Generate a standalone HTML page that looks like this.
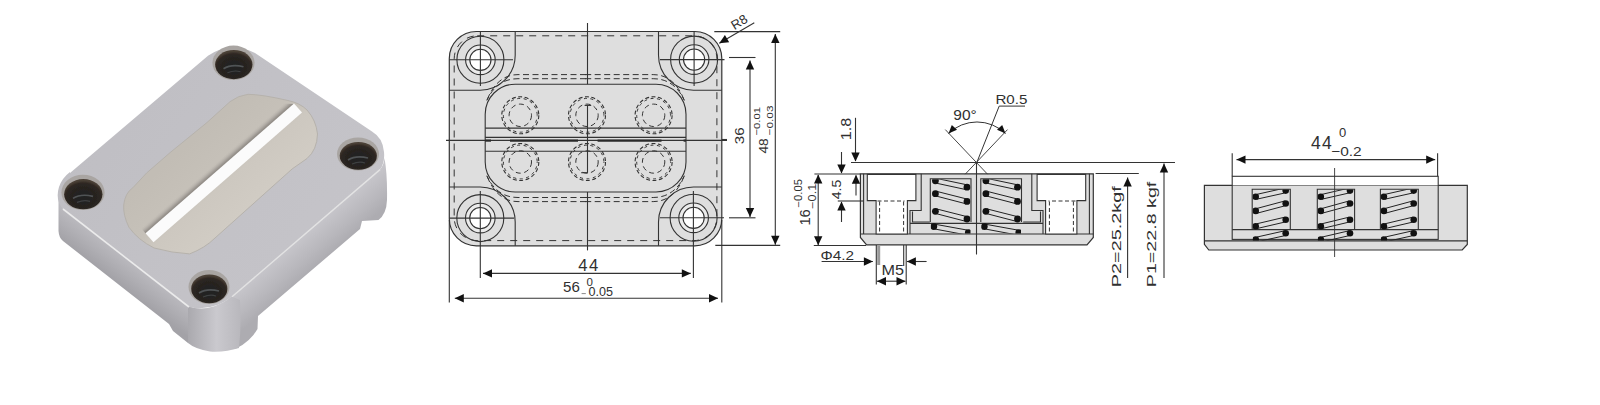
<!DOCTYPE html>
<html><head><meta charset="utf-8"><style>
html,body{margin:0;padding:0;background:#ffffff;overflow:hidden;}
svg{display:block;}
text{font-family:"Liberation Sans", sans-serif;fill:#303030;}
</style></head><body>
<svg width="1600" height="405" viewBox="0 0 1600 405">
<rect width="1600" height="405" fill="#ffffff"/>
<defs>
<linearGradient id="gTop" gradientUnits="userSpaceOnUse" x1="60" y1="60" x2="390" y2="300">
 <stop offset="0" stop-color="#bebdc2"/><stop offset="0.45" stop-color="#c2c1c6"/><stop offset="1" stop-color="#c6c5ca"/>
</linearGradient>
<linearGradient id="gLeft" gradientUnits="userSpaceOnUse" x1="120" y1="253" x2="104.6" y2="273">
 <stop offset="0" stop-color="#bab9be"/><stop offset="0.5" stop-color="#afaeb3"/><stop offset="1" stop-color="#a3a2a7"/>
</linearGradient>
<linearGradient id="gRight" gradientUnits="userSpaceOnUse" x1="300" y1="238.3" x2="320.9" y2="262.6">
 <stop offset="0" stop-color="#c6c5ca"/><stop offset="0.6" stop-color="#b8b7bc"/><stop offset="1" stop-color="#adacb1"/>
</linearGradient>
<linearGradient id="gFront" gradientUnits="userSpaceOnUse" x1="188" y1="0" x2="240" y2="0">
 <stop offset="0" stop-color="#aaa9ae"/><stop offset="0.55" stop-color="#cac9ce"/><stop offset="1" stop-color="#b9b8bd"/>
</linearGradient>
<linearGradient id="gSlot" gradientUnits="userSpaceOnUse" x1="194.1" y1="139.0" x2="253.4" y2="206.7">
 <stop offset="0" stop-color="#c2bdb5"/><stop offset="0.45" stop-color="#c6c1b9"/><stop offset="0.6" stop-color="#cdc8c0"/><stop offset="1" stop-color="#d1ccc4"/>
</linearGradient>
<linearGradient id="gBand" gradientUnits="userSpaceOnUse" x1="215.19" y1="163.06" x2="220.13" y2="168.71">
 <stop offset="0" stop-color="#c4bfb7" stop-opacity="0"/><stop offset="0.55" stop-color="#aca7a1"/><stop offset="0.8" stop-color="#96918b"/><stop offset="1" stop-color="#8c8781"/>
</linearGradient>
<radialGradient id="gHole" cx="0.5" cy="0.6" r="0.55">
 <stop offset="0" stop-color="#202224"/><stop offset="0.55" stop-color="#26231f"/><stop offset="0.85" stop-color="#2e2721"/><stop offset="1" stop-color="#4a3f36"/>
</radialGradient>
<filter id="pblur" x="0" y="0" width="1" height="1"><feGaussianBlur stdDeviation="0.6"/></filter>
</defs>
<g filter="url(#pblur)">
<path d="M58.5,192 L58.5,231 Q59,238 63,241 L169,324 L173,331 L188,343 L192,312 L189,307 L63,209 Z" fill="url(#gLeft)"/>
<path d="M225,302 L380,169.6 Q384,165 384.5,158 Q387.5,175 387,200 Q386.5,214 378.5,220 L362,221 L360,229 L258,316 L257.5,329 Q250,342 236,348.5 L225,348 Z" fill="url(#gRight)"/>
<path d="M188,306 Q208,314 232,296.8 L240,300 Q241.5,325 239,348 Q225,352.5 210,351.5 Q195,349 188,343 Z" fill="url(#gFront)"/>
<path d="M70,173 L208,55.8 Q230,40 255,53 L372,131.5 Q383,138 384,152 Q385,163 380,169.6 L232,296.8 Q212,312 189,307 L63,209 Q55,200 59,187 Q62,178 70,172 Z" fill="url(#gTop)"/>
<path d="M63,209 L189,307" stroke="#eeeeee" stroke-width="1.6" fill="none" opacity="0.9"/>
<path d="M380,169.6 L232,296.8" stroke="#e6e6e6" stroke-width="1.4" fill="none" opacity="0.9"/>
<path d="M146.6,173 L170,152.7 L207,122.5 L230,101.7 Q238,95.5 248,94.3 Q262,94.5 288,100.5 Q300,103 307,110 Q316,120 317.5,134 Q317,150 307,158.5 L292.2,168.9 L215,238 Q205,248 189.6,253.9 Q172,253 154.1,248 Q138,240 128.9,227.2 Q123,215 123.7,205 Q125,193 132.8,187.8 Z" fill="url(#gSlot)" stroke="#b6b2ac" stroke-width="1"/>
<path d="M146.2,234.0 L294.7,104.1 L283.4,103.4 L140.9,228.0 Z" fill="url(#gBand)"/>
<path d="M145.5,233.3 L294.0,103.4 L302.0,112.4 L153.5,242.3 Z" fill="#fbfbfb"/>
<ellipse cx="233.5" cy="62.8" rx="21.1" ry="17.2" fill="#a9a5a2"/>
<ellipse cx="233.8" cy="64.6" rx="18.700000000000003" ry="14.6" fill="url(#gHole)"/>
<path d="M223.5,68.8 Q231.5,63.8 243.5,66.8" stroke="#5f6366" stroke-width="1.6" fill="none" opacity="0.75"/>
<path d="M227.5,72.8 Q234.5,69.8 240.5,71.8" stroke="#4a4d50" stroke-width="1.2" fill="none" opacity="0.7"/>
<ellipse cx="358" cy="154" rx="21" ry="16.5" fill="#a9a5a2"/>
<ellipse cx="358.3" cy="155.8" rx="18.6" ry="13.9" fill="url(#gHole)"/>
<path d="M348,160 Q356,155 368,158" stroke="#5f6366" stroke-width="1.6" fill="none" opacity="0.75"/>
<path d="M352,164 Q359,161 365,163" stroke="#4a4d50" stroke-width="1.2" fill="none" opacity="0.7"/>
<ellipse cx="209" cy="287" rx="20.5" ry="17" fill="#a9a5a2"/>
<ellipse cx="209.3" cy="288.8" rx="18.1" ry="14.4" fill="url(#gHole)"/>
<path d="M199,293 Q207,288 219,291" stroke="#5f6366" stroke-width="1.6" fill="none" opacity="0.75"/>
<path d="M203,297 Q210,294 216,296" stroke="#4a4d50" stroke-width="1.2" fill="none" opacity="0.7"/>
<ellipse cx="83" cy="192.4" rx="21.6" ry="17.7" fill="#a9a5a2"/>
<ellipse cx="83.3" cy="194.20000000000002" rx="19.200000000000003" ry="15.1" fill="url(#gHole)"/>
<path d="M73,198.4 Q81,193.4 93,196.4" stroke="#5f6366" stroke-width="1.6" fill="none" opacity="0.75"/>
<path d="M77,202.4 Q84,199.4 90,201.4" stroke="#4a4d50" stroke-width="1.2" fill="none" opacity="0.7"/>
</g>
<rect x="449.3" y="31.5" width="272.49999999999994" height="214.3" rx="27" fill="#dedede" stroke="#333333" stroke-width="1.2"/>
<rect x="454.2" y="35.8" width="262.7" height="204.8" rx="23" fill="none" stroke="#333333" stroke-width="1" stroke-dasharray="7 6"/>
<rect x="485.2" y="84.2" width="200.8" height="107.8" rx="30" fill="none" stroke="#333333" stroke-width="1.1"/>
<path d="M586.0,74.6 L518.0,74.6 C503.0,74.6 493.0,84.7 486.8,100.5" stroke="#333333" stroke-width="1" stroke-dasharray="6 3.5" fill="none"/>
<path d="M585.2,74.6 L653.2,74.6 C668.2,74.6 678.2,84.7 684.4,100.5" stroke="#333333" stroke-width="1" stroke-dasharray="6 3.5" fill="none"/>
<path d="M586.0,201.6 L518.0,201.6 C503.0,201.6 493.0,191.5 486.8,175.7" stroke="#333333" stroke-width="1" stroke-dasharray="6 3.5" fill="none"/>
<path d="M585.2,201.6 L653.2,201.6 C668.2,201.6 678.2,191.5 684.4,175.7" stroke="#333333" stroke-width="1" stroke-dasharray="6 3.5" fill="none"/>
<path d="M586.0,78.7 L518.0,78.7 C503.0,78.7 493.0,86.9 486.8,100.5" stroke="#333333" stroke-width="1" stroke-dasharray="6 3.5" fill="none"/>
<path d="M585.2,78.7 L653.2,78.7 C668.2,78.7 678.2,86.9 684.4,100.5" stroke="#333333" stroke-width="1" stroke-dasharray="6 3.5" fill="none"/>
<path d="M586.0,197.5 L518.0,197.5 C503.0,197.5 493.0,189.3 486.8,175.7" stroke="#333333" stroke-width="1" stroke-dasharray="6 3.5" fill="none"/>
<path d="M585.2,197.5 L653.2,197.5 C668.2,197.5 678.2,189.3 684.4,175.7" stroke="#333333" stroke-width="1" stroke-dasharray="6 3.5" fill="none"/>
<line x1="485.2" y1="128.1" x2="686" y2="128.1" stroke="#333333" stroke-width="1.1"/>
<line x1="485.2" y1="137.4" x2="686" y2="137.4" stroke="#333333" stroke-width="1.1"/>
<line x1="485.2" y1="151.3" x2="686" y2="151.3" stroke="#333333" stroke-width="1.1"/>
<line x1="446" y1="140.4" x2="727" y2="140.4" stroke="#333333" stroke-width="1.2"/>
<line x1="485.2" y1="140.6" x2="491" y2="140.6" stroke="#2a2a2a" stroke-width="2.2"/>
<line x1="510" y1="140.6" x2="578" y2="140.6" stroke="#2a2a2a" stroke-width="2.2"/>
<line x1="597.6" y1="140.6" x2="661.5" y2="140.6" stroke="#2a2a2a" stroke-width="2.2"/>
<line x1="683.6" y1="140.6" x2="686" y2="140.6" stroke="#2a2a2a" stroke-width="2.2"/>
<circle cx="520.3" cy="115.3" r="18.5" fill="none" stroke="#333333" stroke-width="1.1" stroke-dasharray="4 2.5"/>
<circle cx="520.3" cy="115.3" r="16.9" fill="none" stroke="#333333" stroke-width="1" stroke-dasharray="3 3.5" stroke-dashoffset="2"/>
<circle cx="520.3" cy="115.3" r="11.2" fill="none" stroke="#333333" stroke-width="1" stroke-dasharray="5 3.5"/>
<circle cx="520.3" cy="162.0" r="18.5" fill="none" stroke="#333333" stroke-width="1.1" stroke-dasharray="4 2.5"/>
<circle cx="520.3" cy="162.0" r="16.9" fill="none" stroke="#333333" stroke-width="1" stroke-dasharray="3 3.5" stroke-dashoffset="2"/>
<circle cx="520.3" cy="162.0" r="11.2" fill="none" stroke="#333333" stroke-width="1" stroke-dasharray="5 3.5"/>
<circle cx="587" cy="115.3" r="18.5" fill="none" stroke="#333333" stroke-width="1.1" stroke-dasharray="4 2.5"/>
<circle cx="587" cy="115.3" r="16.9" fill="none" stroke="#333333" stroke-width="1" stroke-dasharray="3 3.5" stroke-dashoffset="2"/>
<circle cx="587" cy="115.3" r="11.2" fill="none" stroke="#333333" stroke-width="1" stroke-dasharray="5 3.5"/>
<circle cx="587" cy="162.0" r="18.5" fill="none" stroke="#333333" stroke-width="1.1" stroke-dasharray="4 2.5"/>
<circle cx="587" cy="162.0" r="16.9" fill="none" stroke="#333333" stroke-width="1" stroke-dasharray="3 3.5" stroke-dashoffset="2"/>
<circle cx="587" cy="162.0" r="11.2" fill="none" stroke="#333333" stroke-width="1" stroke-dasharray="5 3.5"/>
<circle cx="653.6" cy="115.3" r="18.5" fill="none" stroke="#333333" stroke-width="1.1" stroke-dasharray="4 2.5"/>
<circle cx="653.6" cy="115.3" r="16.9" fill="none" stroke="#333333" stroke-width="1" stroke-dasharray="3 3.5" stroke-dashoffset="2"/>
<circle cx="653.6" cy="115.3" r="11.2" fill="none" stroke="#333333" stroke-width="1" stroke-dasharray="5 3.5"/>
<circle cx="653.6" cy="162.0" r="18.5" fill="none" stroke="#333333" stroke-width="1.1" stroke-dasharray="4 2.5"/>
<circle cx="653.6" cy="162.0" r="16.9" fill="none" stroke="#333333" stroke-width="1" stroke-dasharray="3 3.5" stroke-dashoffset="2"/>
<circle cx="653.6" cy="162.0" r="11.2" fill="none" stroke="#333333" stroke-width="1" stroke-dasharray="5 3.5"/>
<path d="M515.2,31.5 L515.2,55.2 A35,35 0 0 1 480.2,90.2 L449.3,90.2" fill="none" stroke="#333333" stroke-width="1.1"/>
<path d="M658.5,31.5 L658.5,55.2 A35,35 0 0 0 693.5,90.2 L721.8,90.2" fill="none" stroke="#333333" stroke-width="1.1"/>
<path d="M449.3,187 L480.2,187 A35,35 0 0 1 515.2,222 L515.2,245.8" fill="none" stroke="#333333" stroke-width="1.1"/>
<path d="M721.8,187 L693.5,187 A35,35 0 0 0 658.5,222 L658.5,245.8" fill="none" stroke="#333333" stroke-width="1.1"/>
<circle cx="480.4" cy="59.8" r="23.5" fill="none" stroke="#333333" stroke-width="1.1"/>
<circle cx="480.4" cy="59.8" r="14.8" fill="#ebebeb" stroke="#333333" stroke-width="1.1"/>
<circle cx="480.4" cy="59.8" r="10.6" fill="#ffffff" stroke="#333333" stroke-width="1.1"/>
<circle cx="694.1" cy="59.6" r="23.5" fill="none" stroke="#333333" stroke-width="1.1"/>
<circle cx="694.1" cy="59.6" r="14.8" fill="#ebebeb" stroke="#333333" stroke-width="1.1"/>
<circle cx="694.1" cy="59.6" r="10.6" fill="#ffffff" stroke="#333333" stroke-width="1.1"/>
<circle cx="480.3" cy="218.1" r="23.5" fill="none" stroke="#333333" stroke-width="1.1"/>
<circle cx="480.3" cy="218.1" r="14.8" fill="#ebebeb" stroke="#333333" stroke-width="1.1"/>
<circle cx="480.3" cy="218.1" r="10.6" fill="#ffffff" stroke="#333333" stroke-width="1.1"/>
<circle cx="693.6" cy="217.8" r="23.5" fill="none" stroke="#333333" stroke-width="1.1"/>
<circle cx="693.6" cy="217.8" r="14.8" fill="#ebebeb" stroke="#333333" stroke-width="1.1"/>
<circle cx="693.6" cy="217.8" r="10.6" fill="#ffffff" stroke="#333333" stroke-width="1.1"/>
<line x1="480.4" y1="31.5" x2="480.4" y2="86" stroke="#333333" stroke-width="1.1"/>
<line x1="449.3" y1="59.8" x2="513" y2="59.8" stroke="#333333" stroke-width="1.1"/>
<line x1="694.1" y1="31.5" x2="694.1" y2="86" stroke="#333333" stroke-width="1.1"/>
<line x1="660" y1="59.6" x2="724.5" y2="59.6" stroke="#333333" stroke-width="1.1"/>
<line x1="480.3" y1="191" x2="480.3" y2="278" stroke="#333333" stroke-width="1.1"/>
<line x1="449.3" y1="218.1" x2="514" y2="218.1" stroke="#333333" stroke-width="1.1"/>
<line x1="693.4" y1="191" x2="693.4" y2="278" stroke="#333333" stroke-width="1.1"/>
<line x1="660" y1="217.8" x2="724" y2="217.8" stroke="#333333" stroke-width="1.1"/>
<line x1="587.5" y1="23" x2="587.5" y2="84.2" stroke="#333333" stroke-width="1.1"/>
<line x1="587.5" y1="105.4" x2="587.5" y2="172.7" stroke="#333333" stroke-width="1.1"/>
<line x1="587.5" y1="192" x2="587.5" y2="250.4" stroke="#333333" stroke-width="1.1"/>
<line x1="584.6" y1="105.4" x2="591.2" y2="105.4" stroke="#333333" stroke-width="1.1"/>
<line x1="581.2" y1="172.7" x2="588" y2="172.7" stroke="#333333" stroke-width="1.1"/>
<line x1="449.3" y1="220" x2="449.3" y2="302.6" stroke="#333333" stroke-width="1.1"/>
<line x1="721.8" y1="220" x2="721.8" y2="302.6" stroke="#333333" stroke-width="1.1"/>
<line x1="483" y1="273.4" x2="690.8" y2="273.4" stroke="#333333" stroke-width="1.1"/>
<path d="M483.0,273.4 L492.0,269.2 L492.0,277.6 Z" fill="#111"/>
<path d="M690.8,273.4 L681.8,277.6 L681.8,269.2 Z" fill="#111"/>
<text x="578.2" y="270.8" font-size="16.6" text-anchor="start" letter-spacing="1.6">44</text>
<line x1="454.8" y1="298.2" x2="718" y2="298.2" stroke="#333333" stroke-width="1.1"/>
<path d="M454.8,298.2 L463.8,294.0 L463.8,302.4 Z" fill="#111"/>
<path d="M718.0,298.2 L709.0,302.4 L709.0,294.0 Z" fill="#111"/>
<text x="563.1" y="292" font-size="14.5" text-anchor="start" textLength="16.8" lengthAdjust="spacingAndGlyphs">56</text>
<text x="586.4" y="285.5" font-size="11.5" text-anchor="start">0</text>
<line x1="581.6" y1="293.6" x2="585.8" y2="293.6" stroke="#8a8a8a" stroke-width="1"/>
<text x="588.5" y="296" font-size="12.5" text-anchor="start" textLength="24.5" lengthAdjust="spacingAndGlyphs">0.05</text>
<line x1="714.3" y1="31.6" x2="780.2" y2="31.6" stroke="#333333" stroke-width="1.1"/>
<line x1="715.3" y1="245.4" x2="780.2" y2="245.4" stroke="#333333" stroke-width="1.1"/>
<line x1="729" y1="57.5" x2="755.5" y2="57.5" stroke="#333333" stroke-width="1.1"/>
<line x1="729" y1="217.8" x2="755.5" y2="217.8" stroke="#333333" stroke-width="1.1"/>
<line x1="721.8" y1="139.5" x2="727" y2="139.5" stroke="#333333" stroke-width="1.1"/>
<line x1="750" y1="60.5" x2="750" y2="217" stroke="#333333" stroke-width="1.1"/>
<path d="M750.0,60.5 L754.2,69.5 L745.8,69.5 Z" fill="#111"/>
<path d="M750.0,217.0 L745.8,208.0 L754.2,208.0 Z" fill="#111"/>
<text x="744.3" y="144.2" font-size="13.6" text-anchor="start" transform="rotate(-90 744.3 144.2)" textLength="16.8" lengthAdjust="spacingAndGlyphs">36</text>
<line x1="775.3" y1="34" x2="775.3" y2="244.7" stroke="#333333" stroke-width="1.1"/>
<path d="M775.3,34.0 L779.5,43.0 L771.1,43.0 Z" fill="#111"/>
<path d="M775.3,244.7 L771.1,235.7 L779.5,235.7 Z" fill="#111"/>
<text x="768.3" y="153.6" font-size="13.5" text-anchor="start" transform="rotate(-90 768.3 153.6)" textLength="15.4" lengthAdjust="spacingAndGlyphs">48</text>
<text x="759.8" y="135.5" font-size="9.5" text-anchor="start" transform="rotate(-90 759.8 135.5)" textLength="28.5" lengthAdjust="spacingAndGlyphs">−0.01</text>
<text x="773.3" y="135.5" font-size="9.5" text-anchor="start" transform="rotate(-90 773.3 135.5)" textLength="30" lengthAdjust="spacingAndGlyphs">−0.03</text>
<line x1="719.3" y1="43.2" x2="754.3" y2="22.7" stroke="#333333" stroke-width="1.1"/>
<path d="M719.3,43.2 L724.9,35.0 L729.2,42.3 Z" fill="#111"/>
<text x="734.6" y="30.2" font-size="13" text-anchor="start" transform="rotate(-32 734.6 30.2)">R8</text>
<defs><clipPath id="cp2a"><rect x="930.8" y="179.3" width="39.7" height="54.3"/></clipPath><clipPath id="cp2b"><rect x="981.3" y="179.3" width="39.7" height="54.3"/></clipPath></defs>
<path d="M860.4,173.8 L1093.3,173.8 L1093.3,237.5 L1087,244.8 L866.6,244.8 L860.4,237.5 Z" fill="#dedede" stroke="#333333" stroke-width="1.2"/>
<line x1="860.4" y1="234" x2="1093.3" y2="234" stroke="#333333" stroke-width="1.1"/>
<g id="d2half"><line x1="863.6" y1="173.8" x2="863.6" y2="234" stroke="#333333" stroke-width="1.1"/>
<path d="M867.3,174.4 L915.9,174.4 L915.9,200.6 L907.4,200.6 L907.4,234 L876.1,234 L876.1,200.6 L867.3,200.6 Z" fill="#ffffff" stroke="#333333" stroke-width="1.1"/>
<line x1="879.6" y1="201.5" x2="879.6" y2="233.5" stroke="#333333" stroke-width="1" stroke-dasharray="4 2.5"/>
<line x1="903.6" y1="201.5" x2="903.6" y2="233.5" stroke="#333333" stroke-width="1" stroke-dasharray="4 2.5"/>
<line x1="877.5" y1="201" x2="904.5" y2="201" stroke="#333333" stroke-width="1" stroke-dasharray="4 2.5"/>
<path d="M921.2,173.8 L921.2,210.5 L910,210.5 L910,234" fill="none" stroke="#333333" stroke-width="1.1"/>
<path d="M912.5,211.5 L912.5,222 L929.8,222" fill="none" stroke="#333333" stroke-width="1.1"/>
<line x1="910" y1="223.4" x2="976.5" y2="223.4" stroke="#333333" stroke-width="1.1"/></g>
<use href="#d2half" transform="translate(1953.0,0) scale(-1,1)"/>
<path d="M930.3,222 L930.3,178.8 L971,178.8 L971,222" fill="none" stroke="#333333" stroke-width="1.1"/>
<path d="M980.8,222 L980.8,178.8 L1021.5,178.8 L1021.5,222" fill="none" stroke="#333333" stroke-width="1.1"/>
<g clip-path="url(#cp2a)"><path d="M936.4,178.4 L966,184.6 M936.4,183.20000000000002 L966,189.6" stroke="#222" stroke-width="1" fill="none"/>
<path d="M936.4,191.29999999999998 L966,198.8 M936.4,196.1 L966,203.8" stroke="#222" stroke-width="1" fill="none"/>
<path d="M936.4,208.9 L966,216.4 M936.4,213.70000000000002 L966,221.4" stroke="#222" stroke-width="1" fill="none"/>
<path d="M934.8,224.2 L967.3,230.1 M934.8,229.0 L967.3,235.1" stroke="#222" stroke-width="1" fill="none"/>
<circle cx="935.4" cy="180.8" r="3.4" fill="#111"/>
<circle cx="935.4" cy="193.7" r="3.4" fill="#111"/>
<circle cx="935.4" cy="211.3" r="3.4" fill="#111"/>
<circle cx="933.8" cy="226.6" r="3.4" fill="#111"/>
<circle cx="967" cy="187.2" r="3.4" fill="#111"/>
<circle cx="967" cy="201.4" r="3.4" fill="#111"/>
<circle cx="967" cy="219" r="3.4" fill="#111"/>
<circle cx="968.3" cy="232.7" r="3.4" fill="#111"/></g>
<g clip-path="url(#cp2b)"><path d="M986.9,178.4 L1016.5,184.6 M986.9,183.20000000000002 L1016.5,189.6" stroke="#222" stroke-width="1" fill="none"/>
<path d="M986.9,191.29999999999998 L1016.5,198.8 M986.9,196.1 L1016.5,203.8" stroke="#222" stroke-width="1" fill="none"/>
<path d="M986.9,208.9 L1016.5,216.4 M986.9,213.70000000000002 L1016.5,221.4" stroke="#222" stroke-width="1" fill="none"/>
<path d="M985.3,224.2 L1017.8,230.1 M985.3,229.0 L1017.8,235.1" stroke="#222" stroke-width="1" fill="none"/>
<circle cx="985.9" cy="180.8" r="3.4" fill="#111"/>
<circle cx="985.9" cy="193.7" r="3.4" fill="#111"/>
<circle cx="985.9" cy="211.3" r="3.4" fill="#111"/>
<circle cx="984.3" cy="226.6" r="3.4" fill="#111"/>
<circle cx="1017.5" cy="187.2" r="3.4" fill="#111"/>
<circle cx="1017.5" cy="201.4" r="3.4" fill="#111"/>
<circle cx="1017.5" cy="219" r="3.4" fill="#111"/>
<circle cx="1018.8" cy="232.7" r="3.4" fill="#111"/></g>
<line x1="851" y1="162.5" x2="1175" y2="162.5" stroke="#333333" stroke-width="1.1"/>
<line x1="976.5" y1="162.5" x2="976.5" y2="254.5" stroke="#333333" stroke-width="1.1"/>
<line x1="945.3" y1="129.6" x2="987.5" y2="174.2" stroke="#333333" stroke-width="0.9"/>
<line x1="1007.5" y1="129.6" x2="965.2" y2="174.2" stroke="#333333" stroke-width="0.9"/>
<path d="M948.5,133.5 A41,41 0 0 1 1005.5,133.5" fill="none" stroke="#333333" stroke-width="1"/>
<path d="M948.5,133.5 L951.8,124.9 L957.0,129.8 Z" fill="#111"/>
<path d="M1005.5,133.5 L997.0,129.8 L1002.2,124.9 Z" fill="#111"/>
<text x="953.3" y="120.3" font-size="14.5" text-anchor="start" textLength="23.5" lengthAdjust="spacingAndGlyphs">90°</text>
<path d="M977,162 L999.2,106.1 L1025,106.1" fill="none" stroke="#333333" stroke-width="1"/>
<text x="995.4" y="103.9" font-size="13.3" text-anchor="start" textLength="32" lengthAdjust="spacingAndGlyphs">R0.5</text>
<line x1="814.4" y1="174" x2="860.4" y2="174" stroke="#333333" stroke-width="1.1"/>
<line x1="813.8" y1="245.5" x2="866" y2="245.5" stroke="#333333" stroke-width="1.1"/>
<line x1="837.8" y1="201" x2="863" y2="201" stroke="#333333" stroke-width="1.1"/>
<line x1="855.5" y1="117.8" x2="855.5" y2="161" stroke="#333333" stroke-width="1.1"/>
<path d="M855.5,161.6 L851.3,152.6 L859.7,152.6 Z" fill="#111"/>
<line x1="856" y1="175.5" x2="856" y2="195.5" stroke="#333333" stroke-width="1.1"/>
<path d="M856.0,174.8 L860.2,183.8 L851.8,183.8 Z" fill="#111"/>
<text x="851.2" y="140.3" font-size="14" text-anchor="start" transform="rotate(-90 851.2 140.3)" textLength="22.5" lengthAdjust="spacingAndGlyphs">1.8</text>
<line x1="841.5" y1="152" x2="841.5" y2="173" stroke="#333333" stroke-width="1.1"/>
<path d="M841.5,173.4 L837.3,164.4 L845.7,164.4 Z" fill="#111"/>
<line x1="841.5" y1="202" x2="841.5" y2="222" stroke="#333333" stroke-width="1.1"/>
<path d="M841.5,201.6 L845.7,210.6 L837.3,210.6 Z" fill="#111"/>
<text x="841.2" y="199.3" font-size="13.5" text-anchor="start" transform="rotate(-90 841.2 199.3)" textLength="19.5" lengthAdjust="spacingAndGlyphs">4.5</text>
<line x1="818.2" y1="175" x2="818.2" y2="245" stroke="#333333" stroke-width="1.1"/>
<path d="M818.2,174.6 L822.4,183.6 L814.0,183.6 Z" fill="#111"/>
<path d="M818.2,245.2 L814.0,236.2 L822.4,236.2 Z" fill="#111"/>
<text x="810" y="225.6" font-size="14" text-anchor="start" transform="rotate(-90 810 225.6)" textLength="16.3" lengthAdjust="spacingAndGlyphs">16</text>
<text x="802.2" y="207.5" font-size="10" text-anchor="start" transform="rotate(-90 802.2 207.5)" textLength="28.5" lengthAdjust="spacingAndGlyphs">−0.05</text>
<text x="816.3" y="208.8" font-size="10" text-anchor="start" transform="rotate(-90 816.3 208.8)" textLength="25" lengthAdjust="spacingAndGlyphs">−0.1</text>
<line x1="876.3" y1="245" x2="876.3" y2="284.6" stroke="#333333" stroke-width="1.1"/>
<rect x="877.2" y="245" width="3" height="20" fill="#9a9a9a"/>
<line x1="903.7" y1="245" x2="903.7" y2="266" stroke="#333333" stroke-width="1.1"/>
<line x1="906.2" y1="245" x2="906.2" y2="284.6" stroke="#333333" stroke-width="1.1"/>
<line x1="821.6" y1="261.5" x2="872.9" y2="261.5" stroke="#333333" stroke-width="1.1"/>
<path d="M872.9,261.5 L863.9,265.7 L863.9,257.3 Z" fill="#111"/>
<line x1="906.9" y1="261.5" x2="926.6" y2="261.5" stroke="#333333" stroke-width="1.1"/>
<path d="M906.9,261.5 L915.9,257.3 L915.9,265.7 Z" fill="#111"/>
<text x="820.5" y="260.2" font-size="13.3" text-anchor="start" textLength="33.5" lengthAdjust="spacingAndGlyphs">Φ4.2</text>
<line x1="877" y1="281.2" x2="905.5" y2="281.2" stroke="#333333" stroke-width="1.1"/>
<path d="M877.0,281.2 L886.0,277.0 L886.0,285.4 Z" fill="#111"/>
<path d="M905.5,281.2 L896.5,285.4 L896.5,277.0 Z" fill="#111"/>
<text x="881.4" y="275.2" font-size="14" text-anchor="start" textLength="22.5" lengthAdjust="spacingAndGlyphs">M5</text>
<line x1="1095.6" y1="173.5" x2="1138.8" y2="173.5" stroke="#333333" stroke-width="1.1"/>
<line x1="1127.6" y1="177.4" x2="1127.6" y2="278" stroke="#333333" stroke-width="1.1"/>
<path d="M1127.6,177.4 L1131.8,186.4 L1123.4,186.4 Z" fill="#111"/>
<line x1="1164" y1="163.6" x2="1164" y2="278" stroke="#333333" stroke-width="1.1"/>
<path d="M1164.0,163.6 L1168.2,172.6 L1159.8,172.6 Z" fill="#111"/>
<text x="1121.2" y="287.2" font-size="13" text-anchor="start" transform="rotate(-90 1121.2 287.2)" textLength="101" lengthAdjust="spacingAndGlyphs">P2=25.2kgf</text>
<text x="1155.6" y="287.2" font-size="13" text-anchor="start" transform="rotate(-90 1155.6 287.2)" textLength="105.5" lengthAdjust="spacingAndGlyphs">P1=22.8 kgf</text>
<defs><clipPath id="cp30"><rect x="1252.7" y="189.6" width="37.09999999999991" height="51"/></clipPath><clipPath id="cp31"><rect x="1317.8" y="189.6" width="36.299999999999955" height="51"/></clipPath><clipPath id="cp32"><rect x="1380.9" y="189.6" width="36.899999999999864" height="51"/></clipPath></defs>
<path d="M1204.4,185.4 L1467.3,185.4 L1467.3,244.4 L1462.2,250 L1208.8,250 L1204.4,244.4 Z" fill="#dedede" stroke="#333333" stroke-width="1.2"/>
<line x1="1204.4" y1="240.9" x2="1467.3" y2="240.9" stroke="#333333" stroke-width="1.1"/>
<rect x="1232.2" y="176.3" width="206.0" height="9.1" fill="#ffffff"/>
<rect x="1232.2" y="176.3" width="206.0" height="63.099999999999994" fill="none" stroke="#333333" stroke-width="1.1"/>
<line x1="1232.2" y1="229.6" x2="1438.2" y2="229.6" stroke="#333333" stroke-width="1.1"/>
<path d="M1252.2,229.6 L1252.2,189.2 L1290.3,189.2 L1290.3,229.6" fill="none" stroke="#333333" stroke-width="1.1"/>
<g clip-path="url(#cp30)"><path d="M1256.7,194.4 L1284.7,188.1 M1256.7,199.20000000000002 L1284.7,193.0" stroke="#222" stroke-width="1" fill="none"/>
<path d="M1256.7,208.5 L1284.7,201.0 M1256.7,213.3 L1284.7,205.9" stroke="#222" stroke-width="1" fill="none"/>
<path d="M1256.7,223.79999999999998 L1284.7,217.2 M1256.7,228.6 L1284.7,222.1" stroke="#222" stroke-width="1" fill="none"/>
<path d="M1256.7,237.1 L1284.7,230.8 M1256.7,241.9 L1284.7,235.70000000000002" stroke="#222" stroke-width="1" fill="none"/>
<circle cx="1255.7" cy="196.8" r="3.3" fill="#111"/>
<circle cx="1255.7" cy="210.9" r="3.3" fill="#111"/>
<circle cx="1255.7" cy="226.2" r="3.3" fill="#111"/>
<circle cx="1255.7" cy="239.5" r="3.3" fill="#111"/>
<circle cx="1285.7" cy="190.6" r="3.3" fill="#111"/>
<circle cx="1285.7" cy="203.5" r="3.3" fill="#111"/>
<circle cx="1285.7" cy="219.7" r="3.3" fill="#111"/>
<circle cx="1285.7" cy="233.3" r="3.3" fill="#111"/></g>
<path d="M1317.3,229.6 L1317.3,189.2 L1354.6,189.2 L1354.6,229.6" fill="none" stroke="#333333" stroke-width="1.1"/>
<g clip-path="url(#cp31)"><path d="M1321.8,194.4 L1349.0,188.1 M1321.8,199.20000000000002 L1349.0,193.0" stroke="#222" stroke-width="1" fill="none"/>
<path d="M1321.8,208.5 L1349.0,201.0 M1321.8,213.3 L1349.0,205.9" stroke="#222" stroke-width="1" fill="none"/>
<path d="M1321.8,223.79999999999998 L1349.0,217.2 M1321.8,228.6 L1349.0,222.1" stroke="#222" stroke-width="1" fill="none"/>
<path d="M1321.8,237.1 L1349.0,230.8 M1321.8,241.9 L1349.0,235.70000000000002" stroke="#222" stroke-width="1" fill="none"/>
<circle cx="1320.8" cy="196.8" r="3.3" fill="#111"/>
<circle cx="1320.8" cy="210.9" r="3.3" fill="#111"/>
<circle cx="1320.8" cy="226.2" r="3.3" fill="#111"/>
<circle cx="1320.8" cy="239.5" r="3.3" fill="#111"/>
<circle cx="1350.0" cy="190.6" r="3.3" fill="#111"/>
<circle cx="1350.0" cy="203.5" r="3.3" fill="#111"/>
<circle cx="1350.0" cy="219.7" r="3.3" fill="#111"/>
<circle cx="1350.0" cy="233.3" r="3.3" fill="#111"/></g>
<path d="M1380.4,229.6 L1380.4,189.2 L1418.3,189.2 L1418.3,229.6" fill="none" stroke="#333333" stroke-width="1.1"/>
<g clip-path="url(#cp32)"><path d="M1384.9,194.4 L1412.7,188.1 M1384.9,199.20000000000002 L1412.7,193.0" stroke="#222" stroke-width="1" fill="none"/>
<path d="M1384.9,208.5 L1412.7,201.0 M1384.9,213.3 L1412.7,205.9" stroke="#222" stroke-width="1" fill="none"/>
<path d="M1384.9,223.79999999999998 L1412.7,217.2 M1384.9,228.6 L1412.7,222.1" stroke="#222" stroke-width="1" fill="none"/>
<path d="M1384.9,237.1 L1412.7,230.8 M1384.9,241.9 L1412.7,235.70000000000002" stroke="#222" stroke-width="1" fill="none"/>
<circle cx="1383.9" cy="196.8" r="3.3" fill="#111"/>
<circle cx="1383.9" cy="210.9" r="3.3" fill="#111"/>
<circle cx="1383.9" cy="226.2" r="3.3" fill="#111"/>
<circle cx="1383.9" cy="239.5" r="3.3" fill="#111"/>
<circle cx="1413.7" cy="190.6" r="3.3" fill="#111"/>
<circle cx="1413.7" cy="203.5" r="3.3" fill="#111"/>
<circle cx="1413.7" cy="219.7" r="3.3" fill="#111"/>
<circle cx="1413.7" cy="233.3" r="3.3" fill="#111"/></g>
<line x1="1334.6" y1="168" x2="1334.6" y2="257" stroke="#333333" stroke-width="0.9"/>
<line x1="1232.2" y1="153.3" x2="1232.2" y2="176.3" stroke="#333333" stroke-width="1.1"/>
<line x1="1437.6" y1="153.3" x2="1437.6" y2="176.3" stroke="#333333" stroke-width="1.1"/>
<line x1="1236.5" y1="159.6" x2="1435.2" y2="159.6" stroke="#333333" stroke-width="1.1"/>
<path d="M1236.5,159.6 L1245.5,155.4 L1245.5,163.8 Z" fill="#111"/>
<path d="M1435.2,159.6 L1426.2,163.8 L1426.2,155.4 Z" fill="#111"/>
<text x="1311" y="148.6" font-size="17.5" text-anchor="start" letter-spacing="1.2">44</text>
<text x="1339.1" y="137.4" font-size="13" text-anchor="start">0</text>
<text x="1331.2" y="155.7" font-size="13" text-anchor="start" textLength="30.5" lengthAdjust="spacingAndGlyphs">−0.2</text>
</svg>
</body></html>
